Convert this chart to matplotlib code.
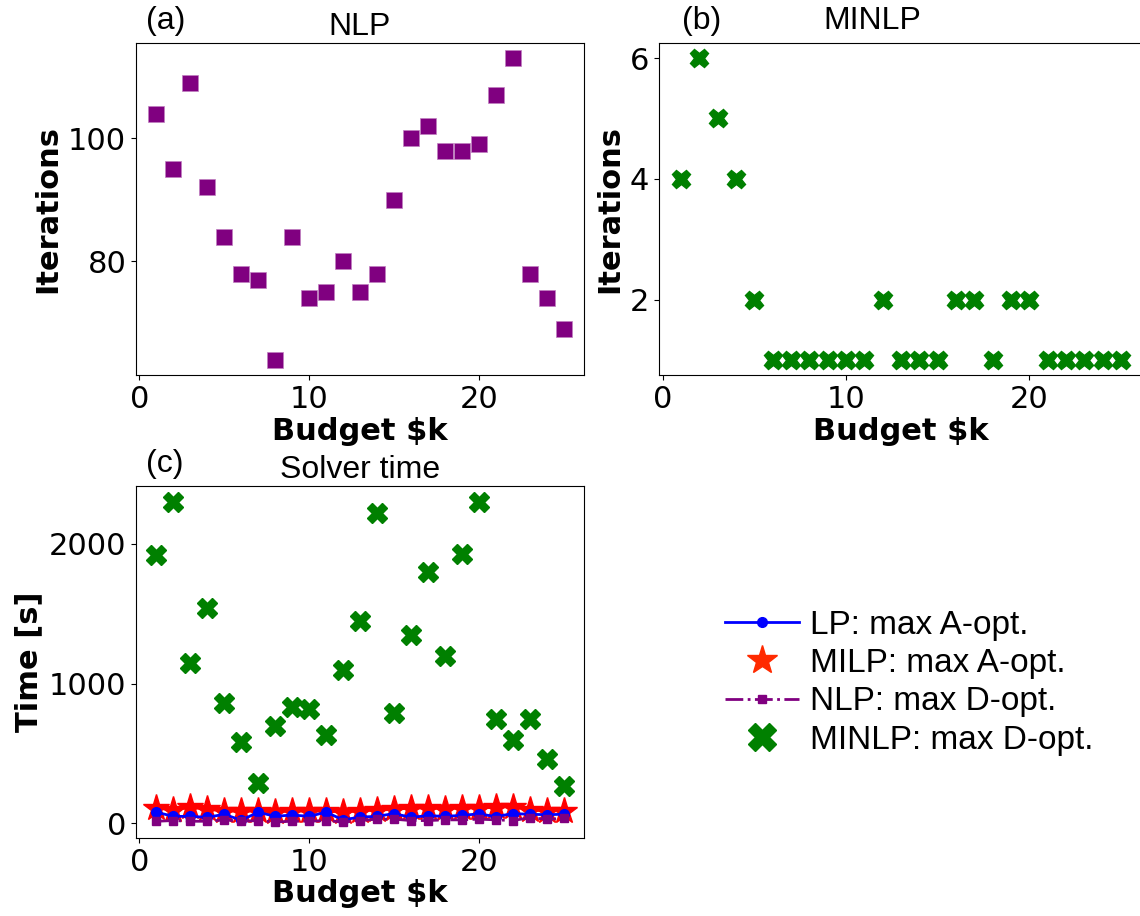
import matplotlib
matplotlib.use("Agg")
import matplotlib.pyplot as plt
from matplotlib.lines import Line2D

budget = list(range(1, 26))

nlp_iters = [104, 95, 109, 92, 84, 78, 77, 64, 84, 74, 75, 80, 75, 78, 90,
             100, 102, 98, 98, 99, 107, 113, 78, 74, 69]
minlp_iters = [4, 6, 5, 4, 2, 1, 1, 1, 1, 1, 1, 2, 1, 1, 1, 2, 2, 1, 2, 2,
               1, 1, 1, 1, 1]

lp_time = [80, 50, 50, 43, 65, 22, 80, 50, 60, 50, 80, 25, 45, 50, 70,
           43, 55, 50, 57, 68, 48, 70, 65, 62, 65]
milp_time = [110, 95, 115, 100, 90, 85, 90, 80, 90, 85, 90, 80, 90, 95, 100,
             110, 110, 105, 110, 110, 115, 120, 95, 90, 90]
nlp_time = [15, 20, 15, 15, 25, 15, 20, 10, 15, 15, 20, 10, 20, 30, 30,
            20, 20, 25, 25, 30, 25, 20, 40, 30, 35]
minlp_time = [1920, 2300, 1150, 1540, 860, 580, 290, 700, 830, 820, 630, 1100,
              1450, 2220, 790, 1350, 1800, 1200, 1930, 2300, 750, 600, 750,
              460, 270]

TITLE_FONT = "Liberation Sans"
FS = 22
TFS = 23

fig = plt.figure(figsize=(11.4, 9.16), dpi=100)

ax_a = fig.add_axes([0.1193, 0.5906, 0.393, 0.3624])
ax_b = fig.add_axes([0.578, 0.5906, 0.4246, 0.3624])
ax_c = fig.add_axes([0.1193, 0.0852, 0.393, 0.3843])

# (a) NLP iterations
ax_a.plot(budget, nlp_iters, 's', color='purple', markersize=11.5,
          markeredgecolor='#c080c0', markeredgewidth=0.5)
ax_a.set_yticks([80, 100])
ax_a.set_xticks([0, 10, 20])
ax_a.set_ylabel('Iterations', fontsize=FS, fontweight='bold')
ax_a.set_xlabel('Budget $k', fontsize=FS, fontweight='bold', labelpad=2)
ax_a.set_title('NLP', fontsize=TFS, family=TITLE_FONT)
ax_a.text(0.022, 1.02, '(a)', transform=ax_a.transAxes, fontsize=TFS,
          family=TITLE_FONT, va='bottom')

# (b) MINLP iterations
ax_b.plot(budget, minlp_iters, 'X', color='green', markersize=13)
ax_b.set_yticks([2, 4, 6])
ax_b.set_xticks([0, 10, 20])
ax_b.set_ylabel('Iterations', fontsize=FS, fontweight='bold')
ax_b.set_xlabel('Budget $k', fontsize=FS, fontweight='bold', labelpad=2)
ax_b.text(0.44, 1.02, 'MINLP', transform=ax_b.transAxes, fontsize=TFS,
          family=TITLE_FONT, va='bottom', ha='center')
ax_b.text(0.048, 1.02, '(b)', transform=ax_b.transAxes, fontsize=TFS,
          family=TITLE_FONT, va='bottom')

# (c) solver time
ax_c.plot(budget, lp_time, '-o', color='blue', linewidth=2, markersize=7,
          label='LP: max A-opt.', zorder=3)
ax_c.plot(budget, milp_time, '*', linestyle='-', color='red', linewidth=2,
          markersize=20, label='MILP: max A-opt.', zorder=2)
ax_c.plot(budget, nlp_time, '-.s', color='purple', linewidth=2, markersize=6,
          label='NLP: max D-opt.', zorder=3)
ax_c.plot(budget, minlp_time, 'X', linestyle='none', color='green',
          markersize=14, label='MINLP: max D-opt.', zorder=3)
ax_c.set_yticks([0, 1000, 2000])
ax_c.set_xticks([0, 10, 20])
ax_c.set_ylabel('Time [s]', fontsize=FS, fontweight='bold')
ax_c.set_xlabel('Budget $k', fontsize=FS, fontweight='bold', labelpad=2)
ax_c.set_title('Solver time', fontsize=TFS, family=TITLE_FONT)
ax_c.text(0.022, 1.02, '(c)', transform=ax_c.transAxes, fontsize=TFS,
          family=TITLE_FONT, va='bottom')

for ax in (ax_a, ax_b, ax_c):
    ax.tick_params(labelsize=FS)

# legend: MILP and MINLP entries show markers only
handles, labels = ax_c.get_legend_handles_labels()
handles[1] = Line2D([0], [0], marker='*', color='#ff2a00', linestyle='none',
                    markersize=22)
handles[3] = Line2D([0], [0], marker='X', color='green', linestyle='none',
                    markersize=20)
fig.legend(handles=handles, labels=labels, loc='upper left',
           bbox_to_anchor=(0.61, 0.367), frameon=False,
           prop={'family': TITLE_FONT, 'size': 24}, handlelength=2.2,
           labelspacing=0.22, handletextpad=0.35)

fig.savefig('out.png', dpi=100)
